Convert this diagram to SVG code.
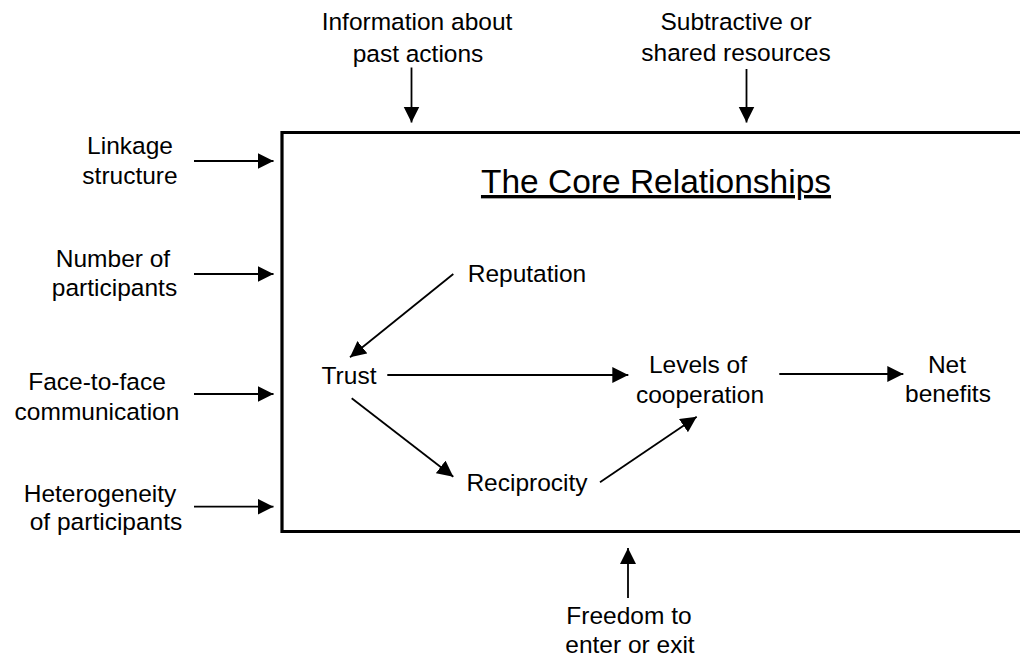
<svg xmlns="http://www.w3.org/2000/svg" width="1020" height="661" viewBox="0 0 1020 661">
<defs>
<style>
text{font-family:"Liberation Sans",Arial,sans-serif;font-size:24.5px;fill:#000;text-anchor:middle}
.title{font-size:33.5px;text-decoration:underline}
.c{stroke:#000;stroke-width:1.8;fill:none;marker-end:url(#ah)}
.box{stroke:#000;stroke-width:3.2;fill:none}
</style>
<marker id="ah" markerUnits="userSpaceOnUse" markerWidth="17" markerHeight="17" refX="16" refY="8" orient="auto" viewBox="0 0 17 17">
<path d="M0,0 L16,8 L0,16 z" fill="#000"/>
</marker>
</defs>
<rect width="1020" height="661" fill="#fff"/>
<g id="core-box">
<path class="box" d="M1030,132.5 H282 V531.5 H1030"/>
<text class="title" x="656" y="193">The Core Relationships</text>
</g>
<g id="info"><text x="417" y="29.5">Information about</text><text x="418" y="61.5">past actions</text></g>
<g id="subtractive"><text x="736" y="29.5">Subtractive or</text><text x="736" y="60.5">shared resources</text></g>
<g id="linkage"><text x="130" y="154">Linkage</text><text x="130" y="184.3">structure</text></g>
<g id="number"><text x="113" y="266.7">Number of</text><text x="114.5" y="296">participants</text></g>
<g id="face"><text x="97" y="390">Face-to-face</text><text x="97" y="420">communication</text></g>
<g id="hetero"><text x="100" y="501.7">Heterogeneity</text><text x="106" y="529.5">of participants</text></g>
<g id="freedom"><text x="629" y="624.3">Freedom to</text><text x="630" y="653.3">enter or exit</text></g>
<g id="reputation"><text x="527" y="281.7">Reputation</text></g>
<g id="trust"><text x="349" y="384.3">Trust</text></g>
<g id="reciprocity"><text x="527" y="490.7">Reciprocity</text></g>
<g id="levels"><text x="698" y="372.7">Levels of</text><text x="700" y="402.7">cooperation</text></g>
<g id="net"><text x="947" y="372.7">Net</text><text x="948" y="401.7">benefits</text></g>
<g id="connectors">
<line class="c" x1="411.5" y1="67.5" x2="411.5" y2="122.5"/>
<line class="c" x1="746.5" y1="69" x2="746.5" y2="122.5"/>
<line class="c" x1="194" y1="161" x2="273.5" y2="161"/>
<line class="c" x1="194" y1="274" x2="273.5" y2="274"/>
<line class="c" x1="194" y1="394" x2="273.5" y2="394"/>
<line class="c" x1="194" y1="506.7" x2="273.5" y2="506.7"/>
<line class="c" x1="628" y1="598" x2="628" y2="548"/>
<line class="c" x1="453.3" y1="274" x2="350" y2="357.3"/>
<line class="c" x1="387.3" y1="375" x2="628.3" y2="375"/>
<line class="c" x1="351.7" y1="398.3" x2="453.3" y2="476.7"/>
<line class="c" x1="600" y1="482.3" x2="696.7" y2="416.7"/>
<line class="c" x1="779.3" y1="374" x2="903.3" y2="374"/>
</g>
</svg>
